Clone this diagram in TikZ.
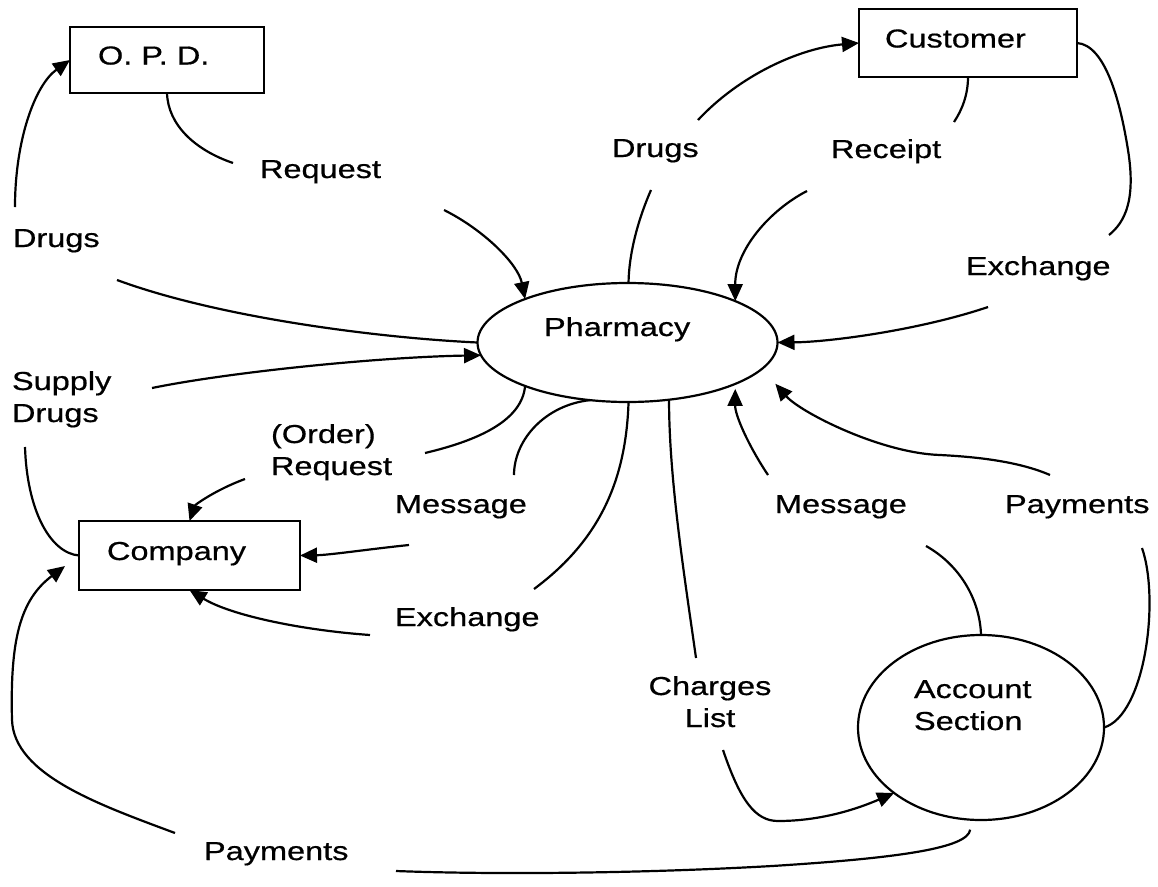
\documentclass[tikz,border=0pt]{standalone}
\usepackage{fontspec}
\setmainfont{Liberation Sans}[FakeStretch=1.25,FakeBold=0.6]
\usetikzlibrary{arrows.meta,shapes.geometric}

\begin{document}
\begin{tikzpicture}[x=1pt,y=-1pt,
  line width=2.2pt,
  every node/.style={inner sep=0pt, outer sep=0pt, font=\fontsize{26}{32}\selectfont},
  entity/.style={draw, rectangle, text height=19pt, text depth=10pt},
  process/.style={draw, ellipse},
  lbl/.style={anchor=base west},
  flow/.style={-{Triangle[length=17pt,width=15pt]}}
]
\useasboundingbox (0,0) rectangle (1158,886);

% external entities
\node[entity, minimum width=194pt, minimum height=66pt] (opd) at (167,60) {\makebox[138pt][l]{O. P. D.}};
\node[entity, minimum width=218pt, minimum height=68pt] (cust) at (968,43) {\makebox[166pt][l]{Customer}};
\node[entity, minimum width=221pt, minimum height=69pt] (comp) at (189.5,555.5) {\makebox[165pt][l]{Company}};

% processes
\node[process, minimum width=300pt, minimum height=119pt, text height=19pt, text depth=32pt] (ph) at (627.5,342.5) {\makebox[167pt][l]{Pharmacy}};
\node[process, minimum width=246pt, minimum height=185pt, text height=19pt, text depth=78pt] (acc) at (981,727.5)
  {\makebox[134pt][l]{\begin{tabular}[t]{@{}l@{}}Account\\Section\end{tabular}}};

% flow labels
\node[lbl] (lRequest) at (260,178) {Request};
\node[lbl] (lDrugsOpd) at (13,247) {Drugs};
\node[lbl] (lDrugsCust) at (612,157) {Drugs};
\node[lbl] (lReceipt) at (831,158) {Receipt};
\node[lbl] (lExchCust) at (966,275) {Exchange};
\node[lbl] (lSupply) at (12,390) {\begin{tabular}[t]{@{}l@{}}Supply\\Drugs\end{tabular}};
\node[lbl] (lOrder) at (271,443) {\begin{tabular}[t]{@{}l@{}}(Order)\\Request\end{tabular}};
\node[lbl] (lMsgComp) at (395,513) {Message};
\node[lbl] (lMsgAcc) at (775,513) {Message};
\node[lbl] (lPayAcc) at (1005,513) {Payments};
\node[lbl] (lExchComp) at (395,626) {Exchange};
\node[anchor=base] (lCharges) at (710,695) {\begin{tabular}[t]{@{}c@{}}Charges\\List\end{tabular}};
\node[lbl] (lPayComp) at (204,860) {Payments};

% free ends of the flow lines, beside their labels
\coordinate (rqA) at (233,163);  \coordinate (rqB) at (444,210);
\coordinate (dgA) at (117,280);  \coordinate (dgB) at (15,207);
\coordinate (sdA) at (25,447);   \coordinate (sdB) at (152,388);
\coordinate (orA) at (425,453);  \coordinate (orB) at (245,479);
\coordinate (mlA) at (514,475);  \coordinate (mlB) at (409,545);
\coordinate (exA) at (534,589);  \coordinate (exB) at (370,635);
\coordinate (clA) at (696,658);  \coordinate (clB) at (723,750);
\coordinate (mrA) at (926,546);  \coordinate (mrB) at (768,475);
\coordinate (prA) at (1142,548); \coordinate (prB) at (1050,475);
\coordinate (rcA) at (954,122);  \coordinate (rcB) at (807,191);
\coordinate (dcA) at (651,190);  \coordinate (dcB) at (698,120);
\coordinate (erA) at (1109,235); \coordinate (erB) at (988,307);
\coordinate (pbA) at (396,871);  \coordinate (pbB) at (175,833);

% Request: O.P.D. -> Pharmacy
\draw (opd.south) .. controls (168,125) and (195,150) .. (rqA);
\draw[flow] (rqB) .. controls (484,230) and (518,264) .. (ph.157.4);

% Drugs: Pharmacy -> O.P.D.
\draw (ph.west) .. controls (380,338) and (220,318) .. (dgA);
\draw[flow] (dgB) .. controls (15,140) and (35,85) .. (opd.west);

% Supply Drugs: Company -> Pharmacy
\draw (comp.west) .. controls (50,553) and (27,510) .. (sdA);
\draw[flow] (sdB) .. controls (230,372) and (380,357) .. (ph.-175);

% (Order) Request: Pharmacy -> Company
\draw (ph.-157.8) .. controls (522,420) and (480,440) .. (orA);
\draw[flow] (orB) .. controls (215,490) and (195,505) .. (comp.north);

% Message: Pharmacy -> Company
\draw (ph.-123.8) .. controls (545,405) and (514,440) .. (mlA);
\draw[flow] (mlB) .. controls (370,549) and (330,555) .. (comp.east);

% Exchange: Pharmacy -> Company
\draw (ph.-89) .. controls (626,480) and (600,540) .. (exA);
\draw[flow] (exB) .. controls (300,630) and (230,615) .. (comp.south);

% Charges List: Pharmacy -> Account Section
\draw (ph.-54) .. controls (669,480) and (685,580) .. (clA);
\draw[flow] (clB) .. controls (740,800) and (755,821) .. (778,821) .. controls (815,821) and (850,812) .. (acc.-143.1);

% Message: Account Section -> Pharmacy
\draw (acc.north) .. controls (980,600) and (960,565) .. (mrA);
\draw[flow, shorten >=5pt] (mrB) .. controls (748,445) and (735,415) .. (ph.-21.5);

% Payments: Account Section -> Pharmacy
\draw (acc.east) .. controls (1145,715) and (1160,600) .. (prA);
\draw[flow, shorten >=20pt] (prB) .. controls (1020,462) and (980,457) .. (940,455) .. controls (880,453) and (800,412) .. (ph.-11.1);

% Receipt: Customer -> Pharmacy
\draw (cust.south) .. controls (968,95) and (962,110) .. (rcA);
\draw[flow] (rcB) .. controls (770,210) and (735,250) .. (ph.21.5);

% Drugs: Pharmacy -> Customer
\draw (ph.89) .. controls (629,250) and (640,215) .. (dcA);
\draw[flow] (dcB) .. controls (740,75) and (800,48) .. (cust.west);

% Exchange: Customer -> Pharmacy
\draw (cust.east) .. controls (1105,45) and (1120,100) .. (1128,150) .. controls (1136,200) and (1125,222) .. (erA);
\draw[flow] (erB) .. controls (920,330) and (830,342) .. (ph.east);

% Payments: Account Section -> Company
\draw[shorten <=10pt] (acc.-96) .. controls (968,848) and (900,858) .. (772,866) .. controls (650,873) and (500,875) .. (pbA);
\draw[flow, shorten >=17.5pt] (pbB) .. controls (100,805) and (14,775) .. (12,720) .. controls (10,640) and (20,600) .. (comp.west);

\end{tikzpicture}
\end{document}
